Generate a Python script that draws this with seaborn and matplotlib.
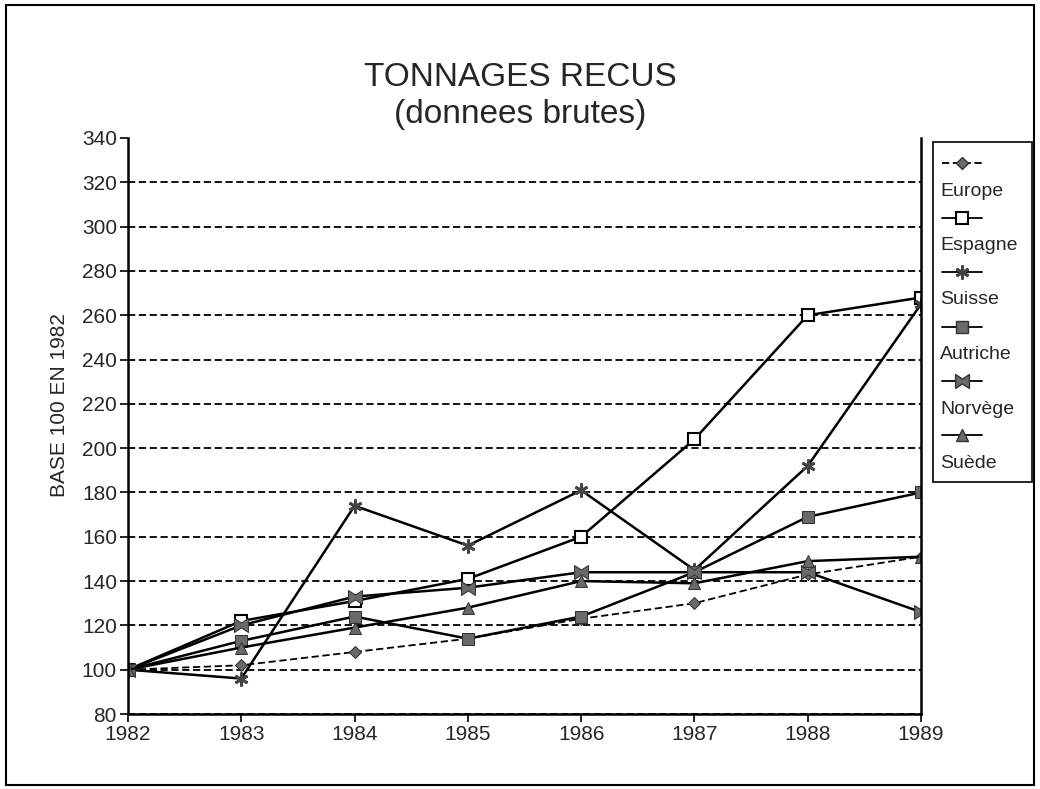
import numpy as np
import pandas as pd
import seaborn as sns
import matplotlib.pyplot as plt
from matplotlib.lines import Line2D
from matplotlib.patches import Rectangle

# valeurs (base 100 en 1982)
annees = [1982, 1983, 1984, 1985, 1986, 1987, 1988, 1989]
europe = [100, 102, 108, 114, 123, 130, 143, 151]
espagne = [100, 122, 131, 141, 160, 204, 260, 268]
suisse = [100, 96, 174, 156, 181, 145, 192, 265]
autriche = [100, 113, 124, 114, 124, 144, 169, 180]
norvege = [100, 120, 133, 137, 144, 144, 144, 126]
suede = [100, 110, 119, 128, 140, 139, 149, 151]
pays = ["Europe", "Espagne", "Suisse", "Autriche", "Norvège", "Suède"]
y_ticks = list(range(80, 341, 20))

df = pd.DataFrame({
    "annee": annees * len(pays),
    "indice": europe + espagne + suisse + autriche + norvege + suede,
    "pays": np.repeat(pays, len(annees)),
})

sns.set_style("ticks")
plt.rcParams['font.family'] = ['Liberation Sans', 'DejaVu Sans']

gris = "#6a6a6a"
bowtie = [(-1, -1), (0, -0.35), (1, -1), (1, 1), (0, 0.35), (-1, 1), (-1, -1)]
styles = {
    "Europe": dict(marker="D", markersize=6, mfc=gris, mec="#333333", linestyle=(0, (4, 2)), lw=1.3),
    "Espagne": dict(marker="s", markersize=8, mfc="white", mec="black", mew=1.5, linestyle="-", lw=1.8),
    "Suisse": dict(marker=(6, 2, 0), markersize=10, mec="#444444", mew=2, linestyle="-", lw=1.8),
    "Autriche": dict(marker="s", markersize=8, mfc=gris, mec="#333333", linestyle="-", lw=1.8),
    "Norvège": dict(marker=bowtie, markersize=10, mfc=gris, mec="#333333", linestyle="-", lw=1.8),
    "Suède": dict(marker="^", markersize=8, mfc=gris, mec="#333333", linestyle="-", lw=1.8),
}

fig = plt.figure(figsize=(10.4, 7.89), dpi=100)
ax = fig.add_axes([128 / 1040, 1 - 714 / 789, (921 - 128) / 1040, (714 - 138) / 789])

for p in pays:
    sub = df[df["pays"] == p]
    sns.lineplot(data=sub, x="annee", y="indice", ax=ax, color="black",
                 errorbar=None, **styles[p])

ax.set_xlim(1982, 1989)
ax.set_ylim(80, 340)
ax.set_xticks(annees)
ax.set_yticks(y_ticks)
ax.tick_params(axis="both", labelsize=15, length=6, width=1.2, color="black", pad=2)
ax.yaxis.grid(True, linestyle=(0, (4, 2)), color="black", lw=1.3)
ax.get_ygridlines()[-1].set_visible(False)
ax.set_axisbelow(True)
for side in ["left", "bottom", "right"]:
    ax.spines[side].set_linewidth(1.8)
    ax.spines[side].set_color("black")
ax.spines["top"].set_visible(False)
ax.set_xlabel("")
ax.set_ylabel("BASE 100 EN 1982", fontsize=15)
ax.yaxis.set_label_coords(-0.075, 0.536)

fig.text(0.5, 1 - 78 / 789, "TONNAGES RECUS", ha="center", va="center", fontsize=24)
fig.text(0.5, 1 - 115 / 789, "(donnees brutes)", ha="center", va="center", fontsize=24)

# legende empilee (symbole au-dessus du nom)
fig.add_artist(Rectangle((933 / 1040, 1 - 482 / 789), 99 / 1040, 340 / 789,
                         transform=fig.transFigure, fill=False, ec="black", lw=1.2))
for i, p in enumerate(pays):
    ys = 163 + i * 54.5
    st = dict(styles[p])
    st.pop("lw")
    ls = st.pop("linestyle")
    fig.add_artist(Line2D([942 / 1040, 962 / 1040, 982 / 1040], [1 - ys / 789] * 3,
                          transform=fig.transFigure, color="black", lw=1.3,
                          linestyle=ls, markevery=[1], **st))
    fig.text(940 / 1040, 1 - (ys + 28) / 789, p, ha="left", va="center", fontsize=14)

# cadre exterieur
fig.add_artist(Rectangle((6 / 1040, 1 - 785 / 789), 1028 / 1040, 780 / 789,
                         transform=fig.transFigure, fill=False, ec="black", lw=1.5))

fig.savefig("out.png", dpi=100)
